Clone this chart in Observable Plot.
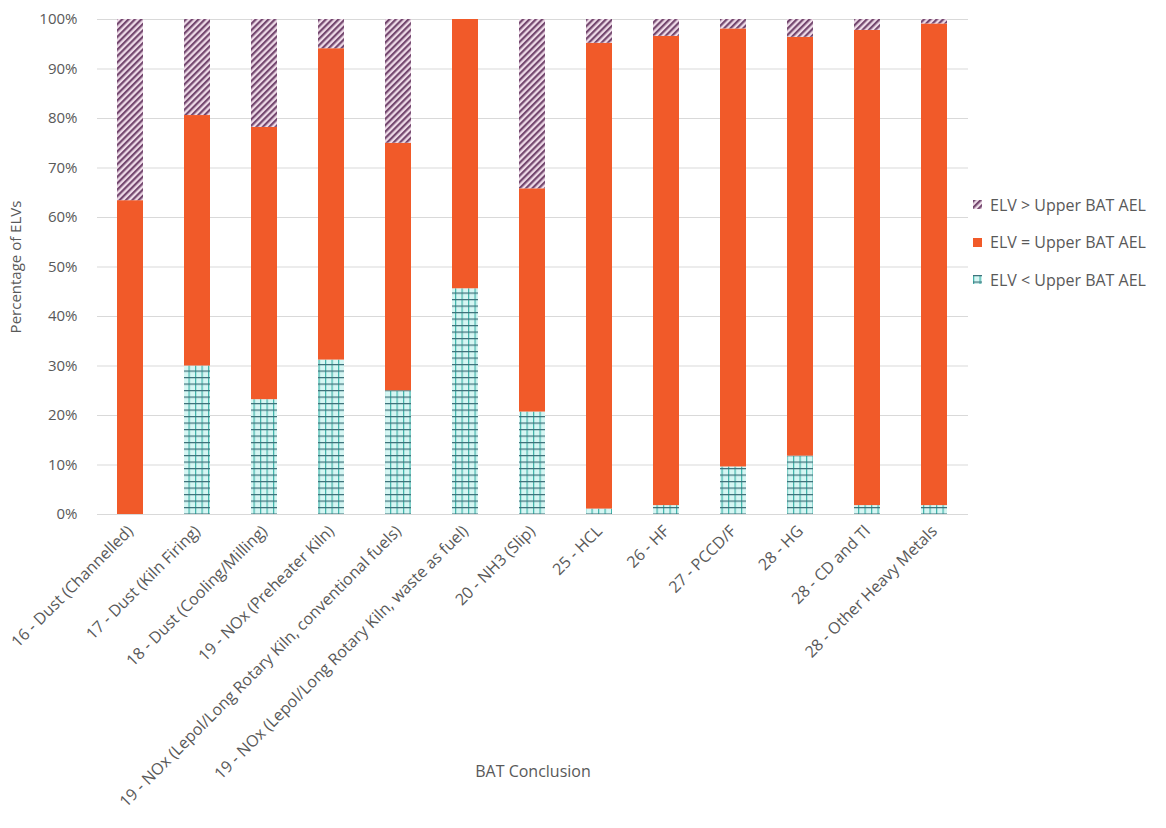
<!DOCTYPE html>
<html><head><meta charset="utf-8">
<script src="https://cdn.jsdelivr.net/npm/d3@7"></script>
<script src="https://cdn.jsdelivr.net/npm/@observablehq/plot@0.6"></script>
<style>
body{margin:0;background:#fff;font-family:"Open Sans",sans-serif;}
#wrap{position:relative;width:1166px;height:828px;}
#legend{position:absolute;left:973px;top:186px;font-size:16px;color:#595959;}
.item{display:flex;align-items:center;height:37.5px;}
.item svg{margin-right:8px;}
</style></head><body>
<svg width="0" height="0" style="position:absolute">
<defs>
<pattern id="hatch" width="4.5" height="4.5" patternUnits="userSpaceOnUse" patternTransform="rotate(45)">
<rect width="4.5" height="4.5" fill="#eedbe8"/>
<rect width="2.2" height="4.5" fill="#74486f"/>
</pattern>
<pattern id="gridp" width="6.5" height="6.5" patternUnits="userSpaceOnUse">
<rect width="6.5" height="6.5" fill="#d6f6f3"/>
<rect x="0" y="0" width="1.2" height="6.5" fill="#3fb3aa"/>
<rect x="0" y="0" width="6.5" height="1.2" fill="#3b6f78"/>
</pattern>
</defs>
</svg>
<div id="wrap"><div id="legend"></div></div>
<script>
const categories = [
  "16 - Dust (Channelled)",
  "17 - Dust (Kiln Firing)",
  "18 - Dust (Cooling/Milling)",
  "19 - NOx (Preheater Kiln)",
  "19 - NOx (Lepol/Long Rotary Kiln, conventional fuels)",
  "19 - NOx (Lepol/Long Rotary Kiln, waste as fuel)",
  "20 - NH3 (Slip)",
  "25 - HCL",
  "26 - HF",
  "27 - PCCD/F",
  "28 - HG",
  "28 - CD and Tl",
  "28 - Other Heavy Metals"
];
const series = ["ELV < Upper BAT AEL", "ELV = Upper BAT AEL", "ELV > Upper BAT AEL"];
const belowUpper = [0.0, 30.0, 23.2, 31.2, 25.0, 45.6, 20.7, 1.1, 1.8, 9.6, 11.8, 1.8, 1.8];
const equalUpper = [63.4, 50.6, 55.0, 62.9, 50.0, 54.4, 45.1, 94.1, 94.8, 88.5, 84.6, 96.0, 97.3];
const aboveUpper = [36.6, 19.4, 21.8, 5.9, 25.0, 0.0, 34.2, 4.8, 3.4, 1.9, 3.6, 2.2, 0.9];
const yTicks = [0, 0.1, 0.2, 0.3, 0.4, 0.5, 0.6, 0.7, 0.8, 0.9, 1.0];

const fills = ["url(#gridp)", "#f15a29", "url(#hatch)"];
const seriesValues = [belowUpper, equalUpper, aboveUpper];

const data = [];
series.forEach((s, si) => {
  categories.forEach((c, ci) => {
    data.push({category: c, series: s, value: seriesValues[si][ci] / 100});
  });
});

const chart = Plot.plot({
  width: 1166,
  height: 828,
  marginLeft: 97,
  marginRight: 198,
  marginTop: 19,
  marginBottom: 314,
  style: {fontFamily: '"Open Sans", sans-serif', fontSize: "16px", color: "#595959", background: "#fff"},
  x: {domain: categories, paddingInner: 0.61, paddingOuter: 0.305, label: null},
  y: {domain: [0, 1], label: null},
  color: {domain: series, range: fills},
  marks: [
    Plot.gridY(yTicks, {stroke: "#d9d9d9", strokeOpacity: 1}),
    Plot.barY(data, {x: "category", y: "value", fill: "series", order: series}),
    Plot.ruleY([0], {stroke: "#d9d9d9"}),
    Plot.axisY(yTicks, {tickFormat: d3.format(".0%"), tickSize: 0, tickPadding: 20, fontSize: 15,
      label: "Percentage of ELVs", labelAnchor: "center", labelArrow: "none", labelOffset: 87}),
    Plot.axisX({tickRotate: -45, tickSize: 0, tickPadding: 14, fontSize: 16,
      label: "BAT Conclusion", labelAnchor: "center", labelArrow: "none", labelOffset: 262})
  ]
});
document.getElementById("wrap").prepend(chart);

const legend = document.getElementById("legend");
[2, 1, 0].forEach(i => {
  const item = document.createElement("div");
  item.className = "item";
  item.innerHTML = `<svg width="9" height="9"><rect width="9" height="9" fill="${fills[i]}"/></svg><span>${series[i]}</span>`;
  legend.appendChild(item);
});
</script>
</body></html>
